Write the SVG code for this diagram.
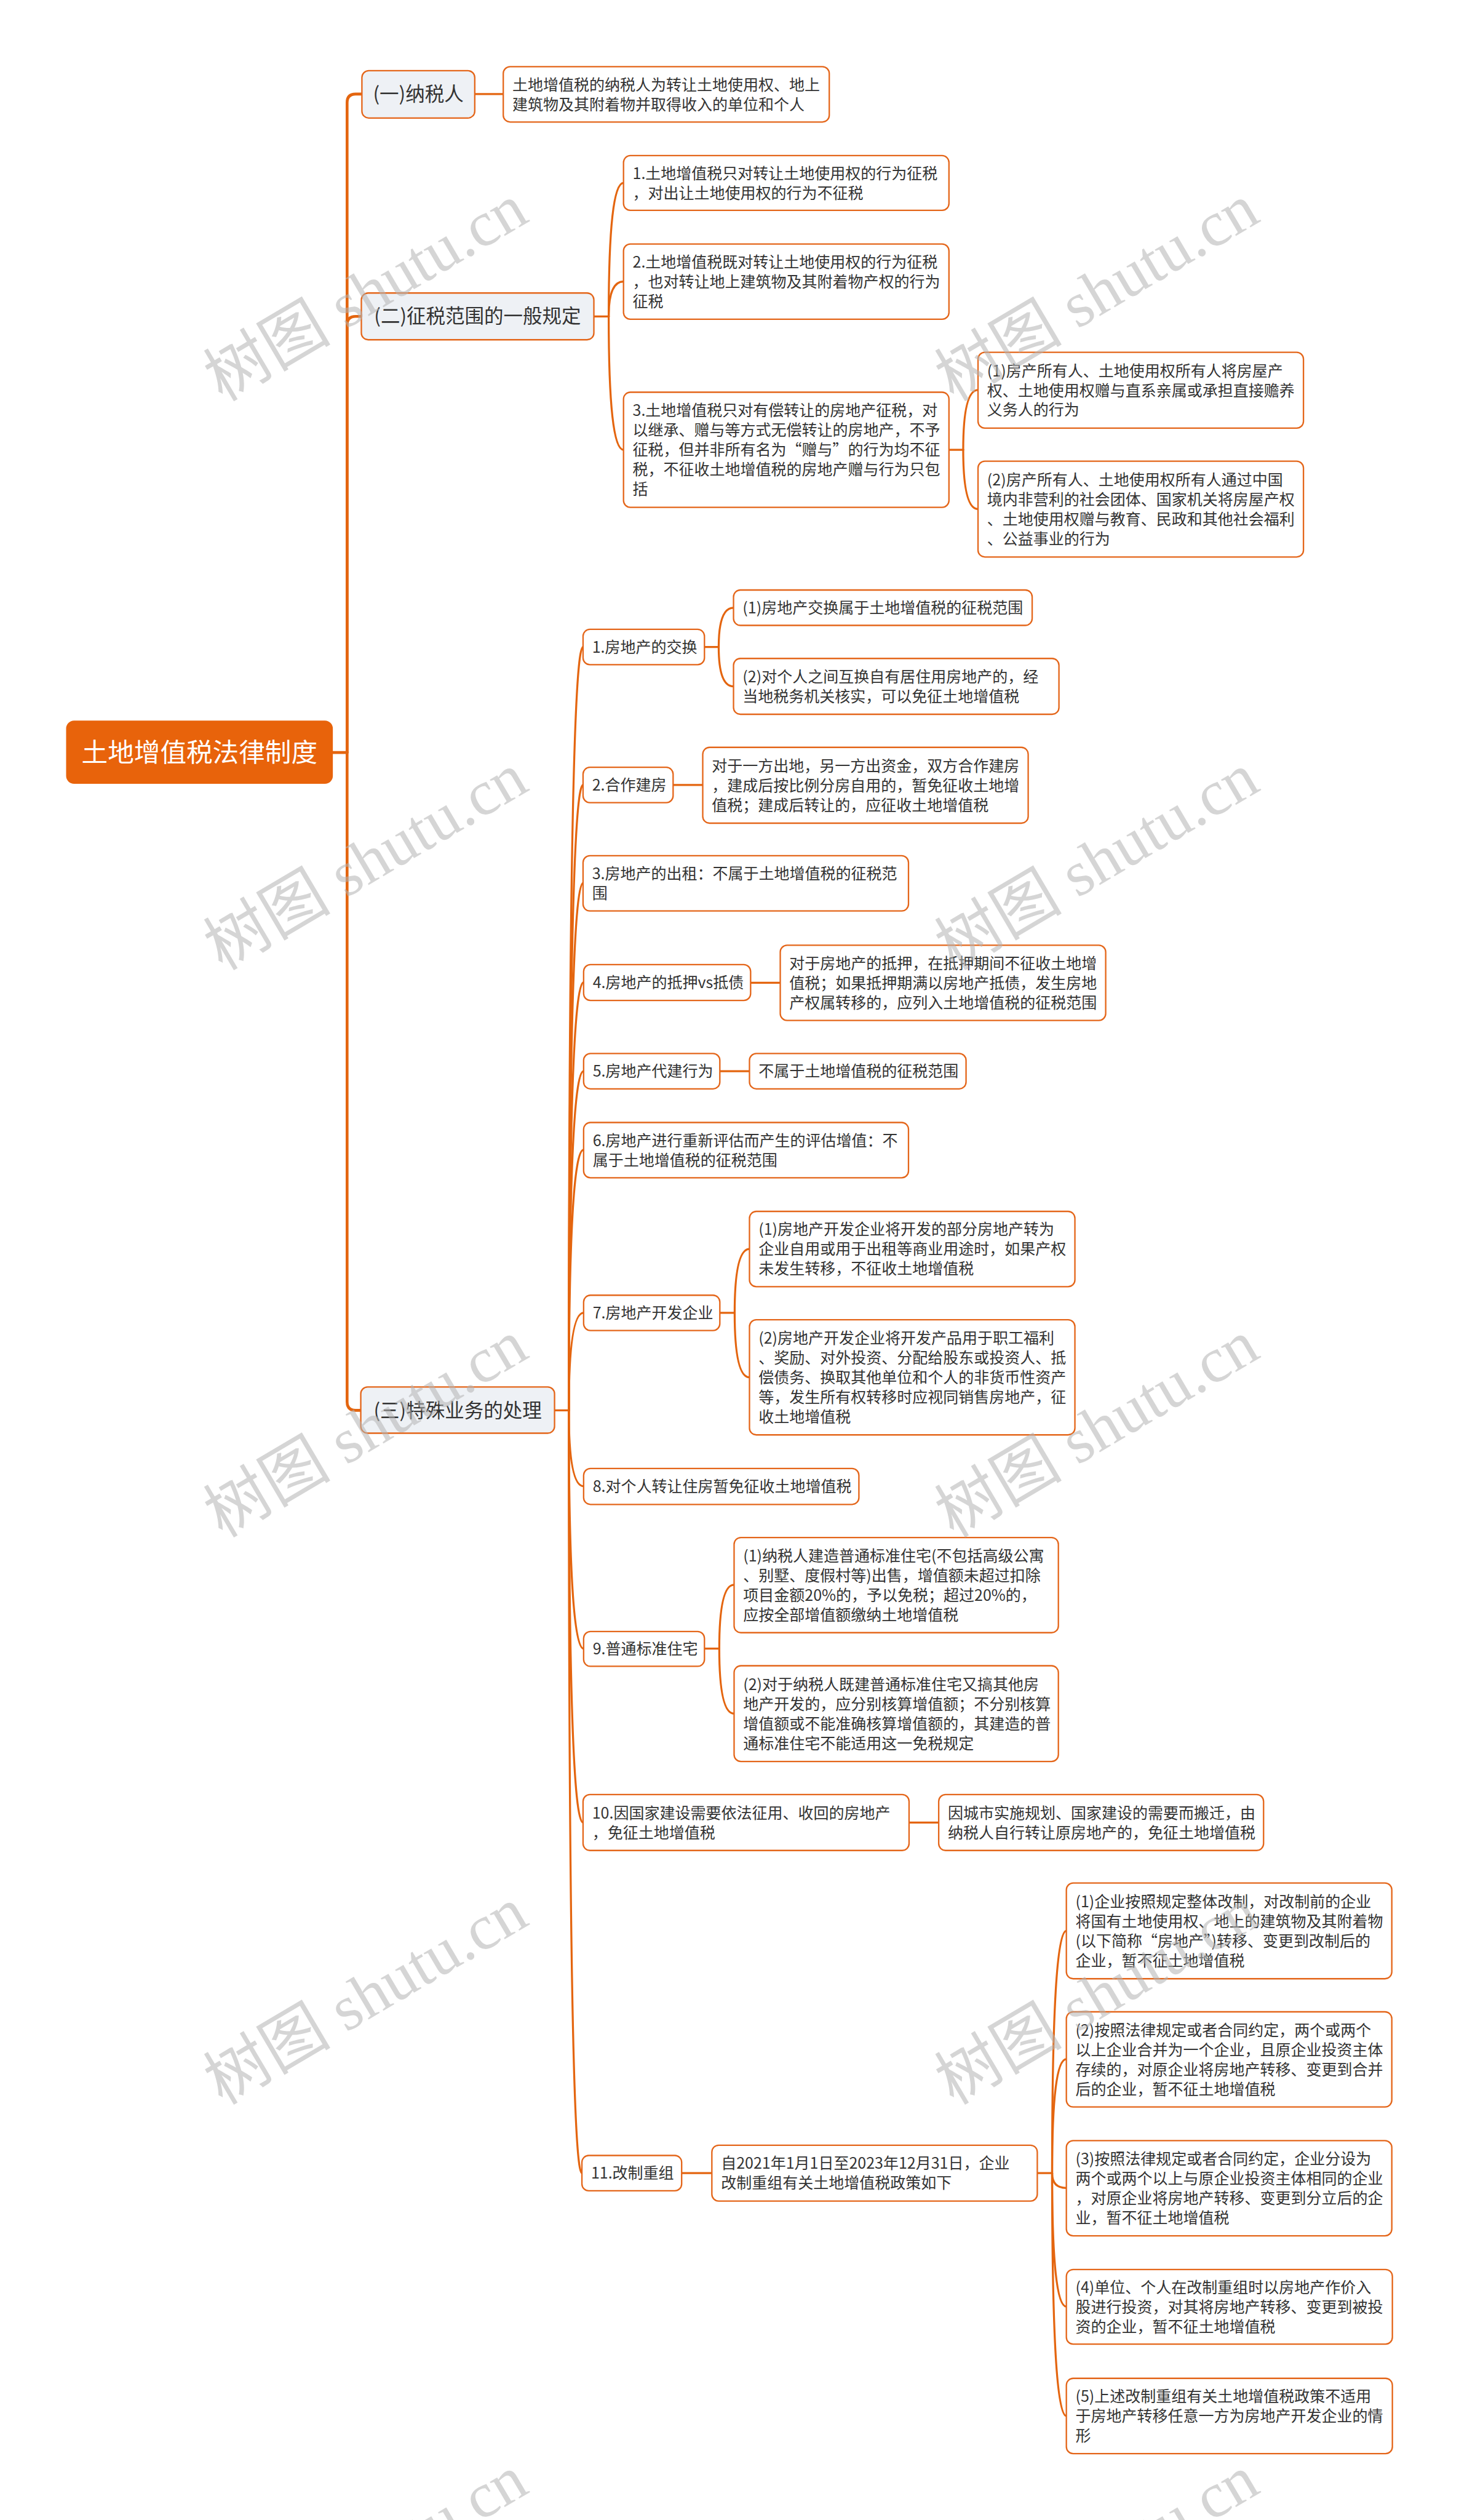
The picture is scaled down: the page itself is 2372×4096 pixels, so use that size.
<svg xmlns="http://www.w3.org/2000/svg" width="2372" height="4096" viewBox="0 0 2372 4096">
<style>
.n rect{fill:#ffffff;stroke:#e4661a;stroke-width:2.5}
.l1 rect{fill:#eef1f5}
.root rect{fill:#e8630b;stroke:none}
text{font-family:"Noto Sans CJK SC","Liberation Sans",sans-serif;font-size:27px;fill:#333333}
.l1 text{font-size:34px;text-anchor:middle}
.root text{font-size:46px;fill:#ffffff;text-anchor:middle}
#connectors path{fill:none;stroke:#e4650f;stroke-width:3.5;stroke-linecap:round}
#connectors path.trunk{stroke-width:5}
.wm text{font-family:"Liberation Serif","Noto Sans CJK SC",serif;font-size:112px;fill:#b4b4b4;opacity:0.55}
</style>
<rect width="2372" height="4096" fill="#ffffff"/>
<g transform="scale(0.9266)">
<g id="connectors">
<path class="trunk" d="M584,1320 H609"/>
<path class="trunk" d="M609,1320 V180 Q609,165 624,165 H635"/>
<path class="trunk" d="M609,1320 V570 Q609,555 624,555 H634"/>
<path class="trunk" d="M609,1320 V2459 Q609,2474 624,2474 H633"/>
<path d="M833,165 H883"/>
<path d="M1042,555 H1068"/>
<path d="M1068,555 Q1068,321 1094,321"/>
<path d="M1068,555 Q1068,494 1094,494"/>
<path d="M1068,555 Q1068,789 1094,789"/>
<path d="M1665,789 H1690"/>
<path d="M1690,789 Q1690,684 1716,684"/>
<path d="M1690,789 Q1690,893 1716,893"/>
<path d="M973,2474 H998"/>
<path d="M998,2474 Q998,1135 1023,1135"/>
<path d="M998,2474 Q998,1377 1023,1377"/>
<path d="M998,2474 Q998,1549 1023,1549"/>
<path d="M998,2474 Q998,1723 1024,1723"/>
<path d="M998,2474 Q998,1879 1024,1879"/>
<path d="M998,2474 Q998,2017 1024,2017"/>
<path d="M998,2474 Q998,2303 1024,2303"/>
<path d="M998,2474 Q998,2607 1024,2607"/>
<path d="M998,2474 Q998,2892 1024,2892"/>
<path d="M998,2474 Q998,3197 1023,3197"/>
<path d="M998,2474 Q998,3812 1021,3812"/>
<path d="M1236,1135 H1261"/>
<path d="M1261,1135 Q1261,1066 1287,1066"/>
<path d="M1261,1135 Q1261,1204 1287,1204"/>
<path d="M1181,1377 H1233"/>
<path d="M1317,1724 H1369"/>
<path d="M1263,1879 H1315"/>
<path d="M1263,2303 H1289"/>
<path d="M1289,2303 Q1289,2191 1315,2191"/>
<path d="M1289,2303 Q1289,2416 1315,2416"/>
<path d="M1236,2892 H1262"/>
<path d="M1262,2892 Q1262,2780 1288,2780"/>
<path d="M1262,2892 Q1262,3006 1288,3006"/>
<path d="M1595,3197 H1647"/>
<path d="M1196,3812 H1249"/>
<path d="M1820,3812 H1846"/>
<path d="M1846,3812 Q1846,3387 1871,3387"/>
<path d="M1846,3812 Q1846,3612 1871,3612"/>
<path d="M1846,3812 Q1846,3838 1871,3838"/>
<path d="M1846,3812 Q1846,4046 1871,4046"/>
<path d="M1846,3812 Q1846,4238 1871,4238"/>
</g>
<g id="root" class="root"><rect x="116" y="1264" width="468" height="111" rx="14"/><text x="350" y="1336">土地增值税法律制度</text></g>
<g id="n1" class="n l1"><rect x="635" y="124" width="198" height="83" rx="12"/><text x="734" y="177">(一)纳税人</text></g>
<g id="n2" class="n l1"><rect x="634" y="514" width="408" height="82" rx="12"/><text x="838" y="567">(二)征税范围的一般规定</text></g>
<g id="n3" class="n l1"><rect x="633" y="2433" width="340" height="81" rx="12"/><text x="803" y="2486">(三)特殊业务的处理</text></g>
<g id="t1" class="n"><rect x="883" y="117" width="572" height="97" rx="12"/><text><tspan x="899" y="158.25">土地增值税的纳税人为转让土地使用权、地上</tspan><tspan x="899" y="192.75">建筑物及其附着物并取得收入的单位和个人</tspan></text></g>
<g id="a1" class="n"><rect x="1094" y="273" width="571" height="96" rx="12"/><text><tspan x="1110" y="313.75">1.土地增值税只对转让土地使用权的行为征税</tspan><tspan x="1110" y="348.25">，对出让土地使用权的行为不征税</tspan></text></g>
<g id="a2" class="n"><rect x="1094" y="428" width="571" height="132" rx="12"/><text><tspan x="1110" y="469.5">2.土地增值税既对转让土地使用权的行为征税</tspan><tspan x="1110" y="504">，也对转让地上建筑物及其附着物产权的行为</tspan><tspan x="1110" y="538.5">征税</tspan></text></g>
<g id="a3" class="n"><rect x="1094" y="688" width="571" height="202" rx="12"/><text><tspan x="1110" y="730">3.土地增值税只对有偿转让的房地产征税，对</tspan><tspan x="1110" y="764.5">以继承、赠与等方式无偿转让的房地产，不予</tspan><tspan x="1110" y="799">征税，但并非所有名为“赠与”的行为均不征</tspan><tspan x="1110" y="833.5">税，不征收土地增值税的房地产赠与行为只包</tspan><tspan x="1110" y="868">括</tspan></text></g>
<g id="b1" class="n"><rect x="1716" y="618" width="571" height="133" rx="12"/><text><tspan x="1732" y="660">(1)房产所有人、土地使用权所有人将房屋产</tspan><tspan x="1732" y="694.5">权、土地使用权赠与直系亲属或承担直接赡养</tspan><tspan x="1732" y="729">义务人的行为</tspan></text></g>
<g id="b2" class="n"><rect x="1716" y="809" width="571" height="168" rx="12"/><text><tspan x="1732" y="851.25">(2)房产所有人、土地使用权所有人通过中国</tspan><tspan x="1732" y="885.75">境内非营利的社会团体、国家机关将房屋产权</tspan><tspan x="1732" y="920.25">、土地使用权赠与教育、民政和其他社会福利</tspan><tspan x="1732" y="954.75">、公益事业的行为</tspan></text></g>
<g id="c1" class="n"><rect x="1023" y="1104" width="213" height="62" rx="12"/><text x="1039" y="1145">1.房地产的交换</text></g>
<g id="c1a" class="n"><rect x="1287" y="1035" width="524" height="62" rx="12"/><text x="1303" y="1076">(1)房地产交换属于土地增值税的征税范围</text></g>
<g id="c1b" class="n"><rect x="1287" y="1155" width="571" height="98" rx="12"/><text><tspan x="1303" y="1196.75">(2)对个人之间互换自有居住用房地产的，经</tspan><tspan x="1303" y="1231.25">当地税务机关核实，可以免征土地增值税</tspan></text></g>
<g id="c2" class="n"><rect x="1023" y="1346" width="158" height="62" rx="12"/><text x="1039" y="1387">2.合作建房</text></g>
<g id="c2a" class="n"><rect x="1233" y="1311" width="571" height="133" rx="12"/><text><tspan x="1249" y="1353">对于一方出地，另一方出资金，双方合作建房</tspan><tspan x="1249" y="1387.5">，建成后按比例分房自用的，暂免征收土地增</tspan><tspan x="1249" y="1422">值税；建成后转让的，应征收土地增值税</tspan></text></g>
<g id="c3" class="n"><rect x="1023" y="1501" width="571" height="97" rx="12"/><text><tspan x="1039" y="1542.25">3.房地产的出租：不属于土地增值税的征税范</tspan><tspan x="1039" y="1576.75">围</tspan></text></g>
<g id="c4" class="n"><rect x="1024" y="1692" width="293" height="63" rx="12"/><text x="1040" y="1733.5">4.房地产的抵押vs抵债</text></g>
<g id="c4a" class="n"><rect x="1369" y="1658" width="571" height="132" rx="12"/><text><tspan x="1385" y="1699.5">对于房地产的抵押，在抵押期间不征收土地增</tspan><tspan x="1385" y="1734">值税；如果抵押期满以房地产抵债，发生房地</tspan><tspan x="1385" y="1768.5">产权属转移的，应列入土地增值税的征税范围</tspan></text></g>
<g id="c5" class="n"><rect x="1024" y="1848" width="239" height="62" rx="12"/><text x="1040" y="1889">5.房地产代建行为</text></g>
<g id="c5a" class="n"><rect x="1315" y="1848" width="380" height="62" rx="12"/><text x="1331" y="1889">不属于土地增值税的征税范围</text></g>
<g id="c6" class="n"><rect x="1024" y="1969" width="570" height="97" rx="12"/><text><tspan x="1040" y="2010.25">6.房地产进行重新评估而产生的评估增值：不</tspan><tspan x="1040" y="2044.75">属于土地增值税的征税范围</tspan></text></g>
<g id="c7" class="n"><rect x="1024" y="2272" width="239" height="62" rx="12"/><text x="1040" y="2313">7.房地产开发企业</text></g>
<g id="c7a" class="n"><rect x="1315" y="2125" width="571" height="132" rx="12"/><text><tspan x="1331" y="2166.5">(1)房地产开发企业将开发的部分房地产转为</tspan><tspan x="1331" y="2201">企业自用或用于出租等商业用途时，如果产权</tspan><tspan x="1331" y="2235.5">未发生转移，不征收土地增值税</tspan></text></g>
<g id="c7b" class="n"><rect x="1315" y="2315" width="571" height="202" rx="12"/><text><tspan x="1331" y="2357">(2)房地产开发企业将开发产品用于职工福利</tspan><tspan x="1331" y="2391.5">、奖励、对外投资、分配给股东或投资人、抵</tspan><tspan x="1331" y="2426">偿债务、换取其他单位和个人的非货币性资产</tspan><tspan x="1331" y="2460.5">等，发生所有权转移时应视同销售房地产，征</tspan><tspan x="1331" y="2495">收土地增值税</tspan></text></g>
<g id="c8" class="n"><rect x="1024" y="2576" width="483" height="63" rx="12"/><text x="1040" y="2617.5">8.对个人转让住房暂免征收土地增值税</text></g>
<g id="c9" class="n"><rect x="1024" y="2862" width="212" height="61" rx="12"/><text x="1040" y="2902.5">9.普通标准住宅</text></g>
<g id="c9a" class="n"><rect x="1288" y="2697" width="569" height="167" rx="12"/><text><tspan x="1304" y="2738.75">(1)纳税人建造普通标准住宅(不包括高级公寓</tspan><tspan x="1304" y="2773.25">、别墅、度假村等)出售，增值额未超过扣除</tspan><tspan x="1304" y="2807.75">项目金额20%的，予以免税；超过20%的，</tspan><tspan x="1304" y="2842.25">应按全部增值额缴纳土地增值税</tspan></text></g>
<g id="c9b" class="n"><rect x="1288" y="2922" width="569" height="168" rx="12"/><text><tspan x="1304" y="2964.25">(2)对于纳税人既建普通标准住宅又搞其他房</tspan><tspan x="1304" y="2998.75">地产开发的，应分别核算增值额；不分别核算</tspan><tspan x="1304" y="3033.25">增值额或不能准确核算增值额的，其建造的普</tspan><tspan x="1304" y="3067.75">通标准住宅不能适用这一免税规定</tspan></text></g>
<g id="c10" class="n"><rect x="1023" y="3148" width="572" height="98" rx="12"/><text><tspan x="1039" y="3189.75">10.因国家建设需要依法征用、收回的房地产</tspan><tspan x="1039" y="3224.25">，免征土地增值税</tspan></text></g>
<g id="c10a" class="n"><rect x="1647" y="3148" width="570" height="98" rx="12"/><text><tspan x="1663" y="3189.75">因城市实施规划、国家建设的需要而搬迁，由</tspan><tspan x="1663" y="3224.25">纳税人自行转让原房地产的，免征土地增值税</tspan></text></g>
<g id="c11" class="n"><rect x="1021" y="3781" width="175" height="62" rx="12"/><text x="1037" y="3822">11.改制重组</text></g>
<g id="c11a" class="n"><rect x="1249" y="3763" width="571" height="98" rx="12"/><text><tspan x="1265" y="3804.75">自2021年1月1日至2023年12月31日，企业</tspan><tspan x="1265" y="3839.25">改制重组有关土地增值税政策如下</tspan></text></g>
<g id="d1" class="n"><rect x="1871" y="3303" width="571" height="168" rx="12"/><text><tspan x="1887" y="3345.25">(1)企业按照规定整体改制，对改制前的企业</tspan><tspan x="1887" y="3379.75">将国有土地使用权、地上的建筑物及其附着物</tspan><tspan x="1887" y="3414.25">(以下简称“房地产”)转移、变更到改制后的</tspan><tspan x="1887" y="3448.75">企业，暂不征土地增值税</tspan></text></g>
<g id="d2" class="n"><rect x="1871" y="3529" width="571" height="167" rx="12"/><text><tspan x="1887" y="3570.75">(2)按照法律规定或者合同约定，两个或两个</tspan><tspan x="1887" y="3605.25">以上企业合并为一个企业，且原企业投资主体</tspan><tspan x="1887" y="3639.75">存续的，对原企业将房地产转移、变更到合并</tspan><tspan x="1887" y="3674.25">后的企业，暂不征土地增值税</tspan></text></g>
<g id="d3" class="n"><rect x="1871" y="3755" width="571" height="167" rx="12"/><text><tspan x="1887" y="3796.75">(3)按照法律规定或者合同约定，企业分设为</tspan><tspan x="1887" y="3831.25">两个或两个以上与原企业投资主体相同的企业</tspan><tspan x="1887" y="3865.75">，对原企业将房地产转移、变更到分立后的企</tspan><tspan x="1887" y="3900.25">业，暂不征土地增值税</tspan></text></g>
<g id="d4" class="n"><rect x="1871" y="3981" width="572" height="131" rx="12"/><text><tspan x="1887" y="4022">(4)单位、个人在改制重组时以房地产作价入</tspan><tspan x="1887" y="4056.5">股进行投资，对其将房地产转移、变更到被投</tspan><tspan x="1887" y="4091">资的企业，暂不征土地增值税</tspan></text></g>
<g id="d5" class="n"><rect x="1871" y="4172" width="572" height="132" rx="12"/><text><tspan x="1887" y="4213.5">(5)上述改制重组有关土地增值税政策不适用</tspan><tspan x="1887" y="4248">于房地产转移任意一方为房地产开发企业的情</tspan><tspan x="1887" y="4282.5">形</tspan></text></g>
<g class="wm">
<text transform="translate(643,516) rotate(-30.5)" text-anchor="middle" y="35">树图 shutu.cn</text>
<text transform="translate(1926,516) rotate(-30.5)" text-anchor="middle" y="35">树图 shutu.cn</text>
<text transform="translate(643,1514) rotate(-30.5)" text-anchor="middle" y="35">树图 shutu.cn</text>
<text transform="translate(1926,1514) rotate(-30.5)" text-anchor="middle" y="35">树图 shutu.cn</text>
<text transform="translate(643,2509) rotate(-30.5)" text-anchor="middle" y="35">树图 shutu.cn</text>
<text transform="translate(1926,2509) rotate(-30.5)" text-anchor="middle" y="35">树图 shutu.cn</text>
<text transform="translate(643,3504) rotate(-30.5)" text-anchor="middle" y="35">树图 shutu.cn</text>
<text transform="translate(1926,3504) rotate(-30.5)" text-anchor="middle" y="35">树图 shutu.cn</text>
<text transform="translate(643,4500) rotate(-30.5)" text-anchor="middle" y="35">树图 shutu.cn</text>
<text transform="translate(1926,4500) rotate(-30.5)" text-anchor="middle" y="35">树图 shutu.cn</text>
</g>
</g>
</svg>
